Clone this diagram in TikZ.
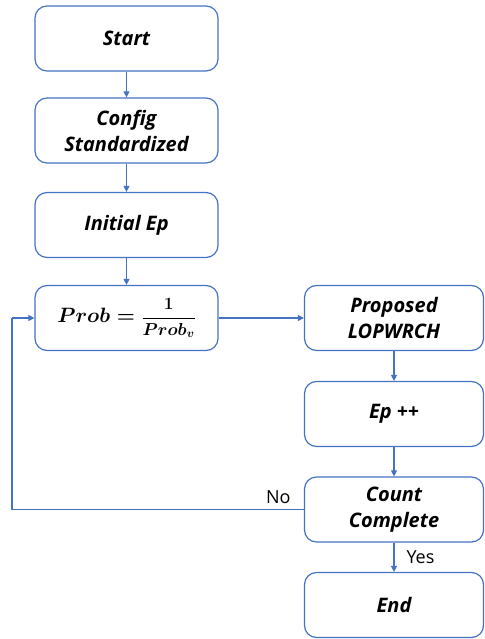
\documentclass[tikz,border=0pt]{standalone}
\usepackage{amsmath}
\usepackage{fontspec}
\setmainfont{Open Sans}
\usetikzlibrary{arrows.meta}
\definecolor{lineblue}{HTML}{4472C4}
\newcommand{\probformula}{\mbox{\mathversion{bold}\fontsize{21}{24}\selectfont$Prob=\;${\fontsize{17.5}{20}\selectfont$\dfrac{1}{Prob_v}$}}}
\tikzset{
  box/.style={draw=lineblue, line width=1.2pt, rounded corners=12pt, fill=white,
    minimum height=65pt, align=center, font=\fontsize{20}{26}\selectfont\bfseries\itshape, inner sep=0pt},
  lbox/.style={box, minimum width=183pt},
  rbox/.style={box, minimum width=179pt},
  conn/.style={draw=lineblue, line width=1.1pt, -{Triangle[length=6pt,width=6pt]}},
  plain/.style={draw=lineblue, line width=1.1pt},
  lab/.style={font=\fontsize{18}{20}\selectfont}
}
\begin{document}
\begin{tikzpicture}[x=1pt,y=-1pt]
\useasboundingbox (0,0) rectangle (484,639);
\node[lbox] (start) at (126.5,38.5) {Start};
\node[lbox] (config) at (126.5,130.5) {Config\\Standardized};
\node[lbox] (init) at (126.5,225) {Initial Ep};
\node[lbox] (prob) at (126.5,318) {\probformula};
\node[rbox] (prop) at (394,318) {Proposed\\LOPWRCH};
\node[rbox] (epp) at (394,414) {Ep ++};
\node[rbox] (count) at (394,509.5) {Count\\Complete};
\node[rbox] (end) at (394,605) {End};
\coordinate (lb) at (12,509.5);
\coordinate (lt) at (12,318);
\draw[conn] (start) -- (config);
\draw[conn] (config) -- (init);
\draw[conn] (init) -- (prob);
\draw[conn] (prob) -- (prop);
\draw[conn] (prop) -- (epp);
\draw[conn] (epp) -- (count);
\draw[conn] (count) -- (end);
\draw[plain] (count.west) -- (lb) -- (lt);
\draw[conn] (lt) -- (prob.west);
\node[lab, anchor=south east] (no) at (294,507) {No};
\node[lab, anchor=west] (yes) at (403,557) {Yes};
\end{tikzpicture}
\end{document}
